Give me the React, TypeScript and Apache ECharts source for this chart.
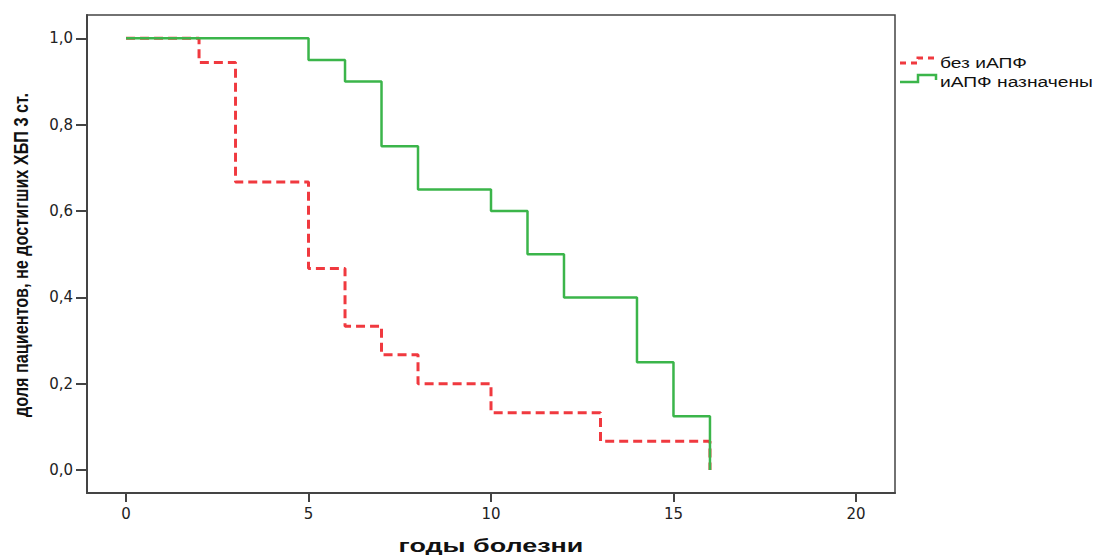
import React, { useEffect, useRef } from "react";
import * as echarts from "echarts";

const xTicks = [0, 5, 10, 15, 20];
const yTicks = [0, 0.2, 0.4, 0.6, 0.8, 1.0];
const seriesNames = ["без иАПФ", "иАПФ назначены"];
const xTitle = "годы болезни";
const yTitle = "доля пациентов, не достигших ХБП 3 ст.";
const noAceYears = [0, 2, 3, 5, 6, 7, 8, 10, 13, 16];
const noAceValues = [1.0, 0.944, 0.667, 0.467, 0.333, 0.267, 0.2, 0.133, 0.067, 0.0];
const aceYears = [0, 5, 6, 7, 8, 10, 11, 12, 14, 15, 16];
const aceValues = [1.0, 0.95, 0.9, 0.75, 0.65, 0.6, 0.5, 0.4, 0.25, 0.125, 0.0];

const RED = "#f0393f";
const GREEN = "#3bb54a";
const AXIS = "#444444";

function measure(text: string, font: string): number {
  const ctx = document.createElement("canvas").getContext("2d");
  if (!ctx) return text.length * 8;
  ctx.font = font;
  return ctx.measureText(text).width;
}

export default function App() {
  const ref = useRef<HTMLDivElement>(null);
  useEffect(() => {
    if (!ref.current) return;
    const chart = echarts.init(ref.current, null, { renderer: "svg" });
    const red = noAceYears.map((x, i) => [x, noAceValues[i]]);
    const green = aceYears.map((x, i) => [x, aceValues[i]]);

    const yTitleFont = "bold 20px 'Liberation Sans'";
    const xTitleFont = "bold 19px 'Liberation Sans'";
    const legFont = "14px 'Liberation Sans'";
    const yScale = 324 / measure(yTitle, yTitleFont);
    const xScale = 185 / measure(xTitle, xTitleFont);
    const leg0Scale = 87 / measure(seriesNames[0], legFont);
    const leg1Scale = 153 / measure(seriesNames[1], legFont);

    chart.setOption({
      animation: false,
      backgroundColor: "#ffffff",
      grid: {
        left: 87,
        right: 201,
        top: 15,
        bottom: 62,
        show: true,
        borderColor: AXIS,
        borderWidth: 1.5,
        containLabel: false,
      },
      xAxis: {
        type: "value",
        min: -1.07,
        max: 21.07,
        splitLine: { show: false },
        axisLine: { show: true, onZero: false, lineStyle: { color: AXIS, width: 2 } },
        axisTick: {
          show: true,
          customValues: xTicks,
          length: 9,
          lineStyle: { color: AXIS, width: 2 },
        },
        axisLabel: {
          customValues: xTicks,
          fontFamily: "DejaVu Sans",
          fontSize: 15,
          color: "#222",
          margin: 13,
        },
      },
      yAxis: {
        type: "value",
        min: -0.053,
        max: 1.054,
        splitLine: { show: false },
        axisLine: { show: true, onZero: false, lineStyle: { color: AXIS, width: 2 } },
        axisTick: {
          show: true,
          customValues: yTicks,
          length: 11,
          lineStyle: { color: AXIS, width: 2 },
        },
        axisLabel: {
          customValues: yTicks,
          formatter: (v: number) => v.toFixed(1).replace(".", ","),
          fontFamily: "DejaVu Sans",
          fontSize: 15,
          color: "#222",
          margin: 14,
        },
      },
      series: [
        {
          name: seriesNames[0],
          type: "line",
          step: "end",
          data: red,
          symbol: "none",
          z: 2,
          lineStyle: { color: RED, width: 3, type: [9, 5] },
        },
        {
          name: seriesNames[1],
          type: "line",
          step: "end",
          data: green,
          symbol: "none",
          z: 3,
          lineStyle: { color: GREEN, width: 2.5 },
        },
      ],
      graphic: [
        {
          type: "text",
          x: 21,
          y: 255,
          rotation: Math.PI / 2,
          scaleX: yScale,
          style: {
            text: yTitle,
            font: yTitleFont,
            fill: "#111",
            align: "center",
            verticalAlign: "middle",
          },
        },
        {
          type: "text",
          x: 491,
          y: 545,
          scaleX: xScale,
          style: {
            text: xTitle,
            font: xTitleFont,
            fill: "#111",
            align: "center",
            verticalAlign: "middle",
          },
        },
        {
          type: "polyline",
          shape: { points: [[900, 63], [918, 63], [918, 58], [937, 58]] },
          style: { stroke: RED, lineWidth: 3, fill: null, lineDash: [6, 5] },
        },
        {
          type: "text",
          x: 940,
          y: 63,
          scaleX: leg0Scale,
          style: {
            text: seriesNames[0],
            font: legFont,
            fill: "#111",
            verticalAlign: "middle",
          },
        },
        {
          type: "polyline",
          shape: { points: [[900, 82], [918, 82], [918, 75], [936, 75], [936, 80]] },
          style: { stroke: GREEN, lineWidth: 2.5, fill: null },
        },
        {
          type: "text",
          x: 940,
          y: 82,
          scaleX: leg1Scale,
          style: {
            text: seriesNames[1],
            font: legFont,
            fill: "#111",
            verticalAlign: "middle",
          },
        },
      ],
    });
    return () => chart.dispose();
  }, []);
  return (
    <div
      ref={ref}
      style={{ position: "fixed", left: 0, top: 0, width: 1096, height: 555 }}
    />
  );
}
